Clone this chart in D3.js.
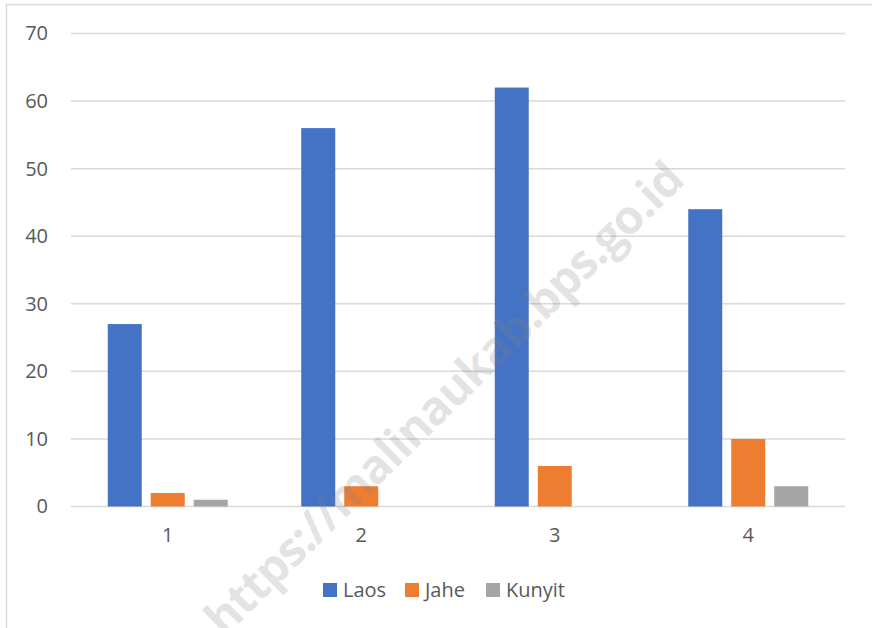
<!DOCTYPE html>
<html>
<head>
    <meta charset="UTF-8">
    <title>Laos Jahe Kunyit</title>
    <script src="https://d3js.org/d3.v7.min.js"></script>
    <style>
        body { margin: 0; background: #fff; }
        svg { display: block; }
        text { font-family: "Open Sans", "Liberation Sans", sans-serif; fill: #595959; }
    </style>
</head>
<body>
<svg id="chart" width="872" height="628"></svg>
<script>
    // data
    const categories = ["1", "2", "3", "4"];
    const seriesNames = ["Laos", "Jahe", "Kunyit"];
    const laos = [27, 56, 62, 44];
    const jahe = [2, 3, 6, 10];
    const kunyit = [1, 0, 0, 3];
    const yTicks = [0, 10, 20, 30, 40, 50, 60, 70];
    const colors = ["#4472c4", "#ed7d31", "#a5a5a5"];
    const watermark = "https://malinaukab.bps.go.id";

    const seriesValues = [laos, jahe, kunyit];

    const svg = d3.select("#chart");

    // chart border (only top/left visible in the crop)
    svg.append("rect")
        .attr("x", 6.5).attr("y", 4.5)
        .attr("width", 900).attr("height", 700)
        .attr("fill", "#fff")
        .attr("stroke", "#d9d9d9")
        .attr("stroke-width", 1.5);

    const plot = { left: 71, right: 845, top: 33.5, bottom: 506.5 };

    const x0 = d3.scaleBand()
        .domain(categories)
        .range([plot.left, plot.right])
        .padding(0);

    const groupW = 120;
    const x1 = d3.scaleBand()
        .domain(seriesNames)
        .range([(x0.bandwidth() - groupW) / 2, (x0.bandwidth() + groupW) / 2])
        .paddingInner(9 / 43);

    const y = d3.scaleLinear()
        .domain([0, 70])
        .range([plot.bottom, plot.top]);

    // gridlines
    svg.append("g")
        .selectAll("line")
        .data(yTicks)
        .join("line")
        .attr("x1", plot.left).attr("x2", plot.right)
        .attr("y1", d => y(d)).attr("y2", d => y(d))
        .attr("stroke", "#d9d9d9")
        .attr("stroke-width", 1.5);

    // y axis labels
    const yAxis = svg.append("g")
        .attr("transform", `translate(${plot.left - 23},0)`)
        .call(d3.axisLeft(y).tickValues(yTicks).tickSize(0).tickPadding(0));
    yAxis.select(".domain").remove();
    yAxis.selectAll("text")
        .attr("fill", "#595959")
        .style("font-size", "20px");

    // bars
    const groups = svg.append("g")
        .selectAll("g")
        .data(categories)
        .join("g")
        .attr("transform", d => `translate(${x0(d)},0)`);

    groups.selectAll("rect")
        .data((c, i) => seriesNames.map((s, k) => ({ s, k, v: seriesValues[k][i] })))
        .join("rect")
        .attr("x", d => x1(d.s))
        .attr("width", x1.bandwidth())
        .attr("y", d => y(d.v))
        .attr("height", d => y(0) - y(d.v))
        .attr("fill", d => colors[d.k]);

    // x axis labels
    const xAxis = svg.append("g")
        .attr("transform", `translate(0,${plot.bottom + 21})`)
        .call(d3.axisBottom(x0).tickSize(0).tickPadding(0));
    xAxis.select(".domain").remove();
    xAxis.selectAll("text")
        .attr("fill", "#595959")
        .style("font-size", "20px");

    // legend
    const legendItems = [
        { name: seriesNames[0], x: 323 },
        { name: seriesNames[1], x: 405 },
        { name: seriesNames[2], x: 486 }
    ];
    const legend = svg.append("g");
    legendItems.forEach((item, i) => {
        legend.append("rect")
            .attr("x", item.x).attr("y", 583)
            .attr("width", 14).attr("height", 14)
            .attr("fill", colors[i]);
        legend.append("text")
            .attr("x", item.x + 20).attr("y", 590)
            .attr("dy", "0.35em")
            .style("font-size", "20px")
            .text(item.name);
    });

    // watermark (cut off at the bottom edge, as in the source)
    svg.append("text")
        .attr("transform", "translate(444,398) rotate(-44.6)")
        .attr("text-anchor", "middle")
        .attr("dy", "0.35em")
        .attr("textLength", 650)
        .style("font-size", "47px")
        .style("font-weight", "bold")
        .style("fill", "rgba(128,128,128,0.22)")
        .text(watermark);
</script>
</body>
</html>
